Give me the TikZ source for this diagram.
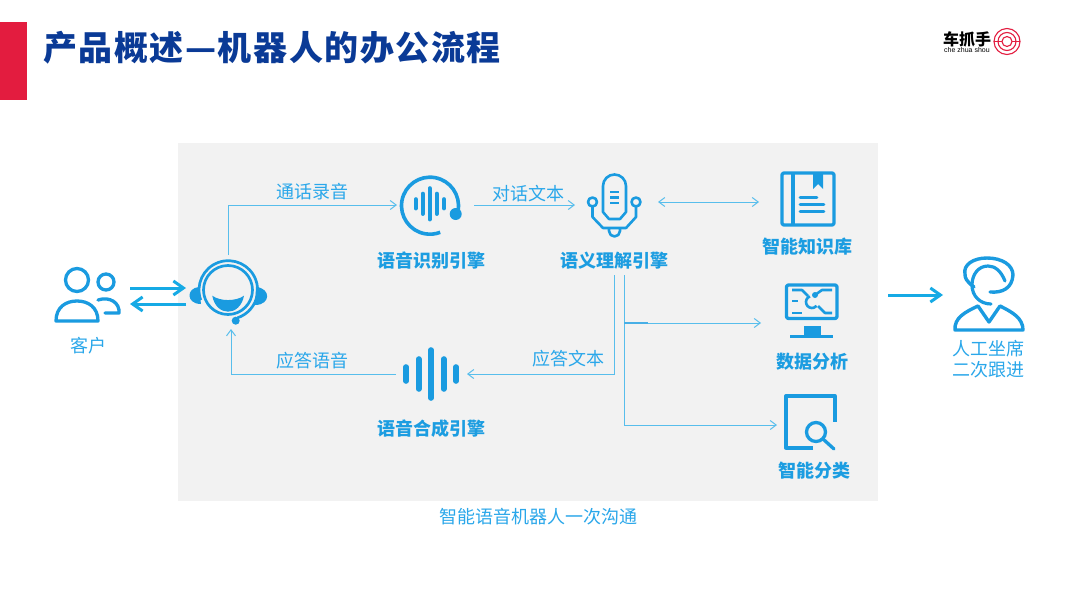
\documentclass[tikz,border=0pt]{standalone}
\usepackage{fontspec}
\usepackage{xcolor}
\usepackage{tikz}
\usetikzlibrary{arrows.meta,positioning,calc}
\setmainfont{Noto Sans CJK SC}
\newfontfamily\titlecjk[LetterSpace=4.5]{Noto Sans CJK SC}
\newfontfamily\latinsub{Liberation Sans}
\definecolor{titleblue}{RGB}{10,58,150}
\definecolor{brandred}{RGB}{227,28,63}
\definecolor{iconblue}{RGB}{26,155,224}
\definecolor{textblue}{RGB}{42,167,234}
\definecolor{flowblue}{RGB}{88,190,236}
\definecolor{panelgrey}{RGB}{242,242,242}
\tikzset{
  panelbox/.style={fill=panelgrey,minimum width=700,minimum height=358,inner sep=0pt},
  slot/.style={inner sep=0pt,outer sep=0pt},
  lbl/.style={font=\fontsize{18}{22}\selectfont,color=textblue,inner sep=0pt,align=center},
  lblb/.style={lbl,font=\fontsize{18}{22}\selectfont\bfseries,color=iconblue!85!textblue},
  flow/.style={-{Straight Barb[length=6pt,width=9pt]},line width=1pt,draw=flowblue},
  flowb/.style={flow,{Straight Barb[length=6pt,width=9pt]}-{Straight Barb[length=6pt,width=9pt]}},
  flowk/.style={-{Straight Barb[length=10pt,width=14pt]},line width=3pt,draw=iconblue!85!cyan},
  ico/.style={draw=iconblue,line width=3.3pt,line join=round},
  bar/.style={draw=iconblue,line cap=round},
}

\begin{document}
\begin{tikzpicture}[x=1pt,y=-1pt]

  \useasboundingbox (0,0) rectangle (1080,600);
  \fill[white] (0,0) rectangle (1080,600);

  % --- header -------------------------------------------------------------
  \fill[brandred] (0,22) rectangle (27,100);
  \node[anchor=west,inner sep=0pt,color=titleblue,font=\titlecjk\fontsize{34}{38}\selectfont\bfseries]
        (title) at (43,48) {产品概述—机器人的办公流程};
  \node[inner sep=0pt,font=\fontsize{16}{18}\selectfont\bfseries] (brand) at (967,39) {车抓手};
  \node[inner sep=0pt,font=\latinsub\fontsize{7}{8}\selectfont] (brandsub) at (967,50) {che zhua shou};
  \foreach \ringr in {13,9,5} \draw[brandred,line width=1.1pt] (1007,41.5) circle[radius=\ringr pt];
  \draw[brandred,line width=1.1pt] (994,41.5) -- (1002,41.5) (1012,41.5) -- (1020,41.5);

  % --- panel and icon slots ------------------------------------------------
  \node[panelbox] (panel) at (528,322) {};
  \node[slot,minimum width=84,minimum height=60] (cust) at (88,296) {};
  \node[slot,minimum width=84,minimum height=74] (agent) at (228,292) {};
  \node[slot,minimum width=66,minimum height=60] (asr) at (430,205) {};
  \node[slot,minimum width=79,minimum height=70] (sem) at (614.5,205) {};
  \node[slot,minimum width=71,minimum height=54] (tts) at (431.5,374) {};
  \node[slot,minimum width=98,minimum height=53] (kb) at (808,198.5) {};
  \node[slot,minimum width=103,minimum height=55] (data) at (812.5,310.5) {};
  \node[slot,minimum width=67,minimum height=53] (sort) at (810.5,422) {};
  \node[slot,minimum width=90,minimum height=76] (human) at (988,295) {};
  \coordinate (semL) at (614.7,275);
  \coordinate (semR) at (624.3,275);
  \coordinate (handoff) at (888,295);

  % --- labels --------------------------------------------------------------
  \node[lbl] (cust-l) at (88.5,345.8) {客户};
  \node[lbl] (rec-l) at (312.5,191.8) {通话录音};
  \node[lbl] (txt-l) at (528.5,193.8) {对话文本};
  \node[lbl] (ans-l) at (312.5,360.8) {应答语音};
  \node[lbl] (anst-l) at (568.5,358.8) {应答文本};
  \node[lblb] (asr-l) at (431,260.8) {语音识别引擎};
  \node[lblb] (sem-l) at (614.5,260.8) {语义理解引擎};
  \node[lblb] (tts-l) at (431,428.8) {语音合成引擎};
  \node[lblb] (kb-l) at (807.5,246.8) {智能知识库};
  \node[lblb] (data-l) at (812,361.8) {数据分析};
  \node[lblb] (sort-l) at (814.5,470.8) {智能分类};
  \node[lbl,font=\fontsize{18}{21}\selectfont] (human-l) at (988.5,358.8) {人工坐席\\二次跟进};
  \node[lbl] (panel-l) at (538,516.8) {智能语音机器人一次沟通};

  % --- connectors ----------------------------------------------------------
  \draw[flowk] ([yshift=8pt]cust.east) -- ([yshift=4pt]agent.west);
  \draw[flowk] ([yshift=-12pt]agent.west) -- ([yshift=-8pt]cust.east);
  \draw[flow] (agent.north) |- (asr.west);
  \draw[flow] ([xshift=11pt]asr.east) -- (sem.west);
  \draw[flowb] ([xshift=4pt,yshift=3pt]sem.east) -- ([yshift=-3.5pt]kb.west);
  \draw[flow] (semL) |- (tts.east);
  \draw[flow] (tts.west) -| ([xshift=3pt]agent.south);
  \draw[flow] (semR) |- ([yshift=-12.5pt]data.west);
  \draw[flow] (semR) |- ([yshift=-3pt]sort.west);
  \draw[flow,-,line width=1.5pt,draw=iconblue!80] (semR |- 0,323) -- ++(24,0);
  \draw[flowk] (handoff) -- (human.west);

  % --- customer ------------------------------------------------------------
  \draw[ico] (77,280) circle[radius=11.5pt];
  \draw[ico] (106,282) circle[radius=8pt];
  \draw[ico] (56,321) .. controls (56,307) and (66,301) .. (77,301)
             .. controls (88,301) and (98,307) .. (98,321) -- cycle;
  \draw[ico,line cap=round] (98,300) .. controls (110,296) and (120,303) .. (119,313) -- (105,313);

  % --- agent ---------------------------------------------------------------
  \draw[ico,line width=2.7pt] (228,290) circle[radius=24.5pt];
  \draw[ico,line width=2.7pt] (228.3,290) ++(200:29.3pt) arc[start angle=200,end angle=-72,radius=29.3pt];
  \fill[iconblue] (235.7,320.7) circle[radius=4pt];
  \fill[iconblue] (199,287) .. controls (186,288) and (186,304) .. (201,304) -- cycle;
  \fill[iconblue] (256,287) .. controls (271,288) and (271,305) .. (255,305) -- cycle;
  \fill[iconblue] (212.3,295.7) .. controls (220,301.5) and (236,301.5) .. (244,295.7)
                  .. controls (240,317) and (216,317) .. (212.3,295.7) -- cycle;

  % --- speech recognition --------------------------------------------------
  \draw[ico,line width=3.6pt] (430,205.7) ++(-10:28.5pt) arc[start angle=-10,end angle=291,radius=28.5pt];
  \fill[iconblue] (455.7,214) circle[radius=6pt];
  \foreach \barx/\barh in {415.7/4.5,422.7/10,429.7/15.5,436.7/10,444/4.5}
    \draw[bar,line width=4.3pt] (\barx,{203.8-\barh}) -- (\barx,{203.8+\barh});

  % --- semantic microphone -------------------------------------------------
  \draw[ico,line width=2.6pt] (603,212) -- (603,186) arc[start angle=180,end angle=0,radius=11.5pt]
        -- (626,212) -- (620,219) -- (609,219) -- cycle;
  \foreach \liney in {192,197.5,203} \draw[ico,line width=2.2pt] (610,\liney) -- (619,\liney);
  \draw[ico,line width=2.6pt] (592.5,202) circle[radius=4.5pt];
  \draw[ico,line width=2.6pt] (636,202) circle[radius=4.5pt];
  \draw[ico,line width=2.6pt] (592.5,206.5) -- (592.5,217) -- (603,228) -- (626,228) -- (636,217) -- (636,206.5);
  \draw[ico,line width=2.6pt] (609,228) -- (609,231) arc[start angle=180,end angle=360,radius=5.5pt] -- (620,228);

  % --- speech synthesis ----------------------------------------------------
  \foreach \barx/\barh in {406/7,418.7/15,431/24,443.7/15,456/7}
    \draw[bar,line width=5.6pt] (\barx,{374-\barh}) -- (\barx,{374+\barh});

  % --- knowledge base ------------------------------------------------------
  \draw[ico,rounded corners=2pt] (782,173) rectangle (834,225);
  \draw[ico] (793,173) -- (793,225);
  \fill[iconblue] (813,172) -- (823,172) -- (823,189) -- (818,184) -- (813,189) -- cycle;
  \draw[ico,line width=2.6pt,line cap=round] (800,197.5) -- (817,197.5);
  \draw[ico,line width=2.6pt,line cap=round] (800,204.5) -- (824,204.5);
  \draw[ico,line width=2.6pt,line cap=round] (800,211.5) -- (824,211.5);

  % --- data analysis -------------------------------------------------------
  \draw[ico,rounded corners=2pt] (786.5,285) rectangle (837,318.5);
  \fill[iconblue] (804,326) rectangle (821,335);
  \fill[iconblue] (790,335) rectangle (833,338);
  \draw[ico,line width=2.6pt] (792,290) -- (802,290) -- (808,296);
  \draw[ico,line width=2.6pt] (832,290) -- (822,290) -- (815,295);
  \draw[ico,line width=2.6pt] (818,306) -- (825,313) -- (832,313);
  \draw[ico,line width=2.6pt] (792,301) -- (798,301);
  \draw[ico,line width=2.6pt] (792,313) -- (802,313);
  \draw[ico,line width=2.6pt] (812,302) ++(110:6pt) arc[start angle=110,end angle=320,radius=6pt];
  \fill[iconblue] (815,295) circle[radius=3pt];

  % --- classification ------------------------------------------------------
  \draw[ico] (813,448) -- (786,448) -- (786,396) -- (835,396) -- (835,422);
  \draw[ico] (816,432) circle[radius=9.5pt];
  \draw[ico,line cap=round] (823,439) -- (834,449);

  % --- human agent ---------------------------------------------------------
  \draw[ico,line width=3.4pt,line cap=round] (990,292) .. controls (1003,293) and (1012,288) .. (1013,275)
        .. controls (1013,265) and (1002,258) .. (987,258)
        .. controls (973,258) and (963,265) .. (965,274)
        .. controls (965,278) and (966,281) .. (974,287);
  \draw[ico,line width=3.2pt,line cap=round] (1005,281) .. controls (1001,271) and (995,266) .. (988,266)
        .. controls (978,266) and (972,275) .. (972,285)
        .. controls (972,296) and (980,304) .. (991,304);
  \draw[ico,line width=3.4pt] (955,330) .. controls (954,318) and (965,312) .. (978,306)
        -- (989,322) -- (1000,306) .. controls (1012,312) and (1023,318) .. (1023,330) -- cycle;

\end{tikzpicture}
\end{document}
